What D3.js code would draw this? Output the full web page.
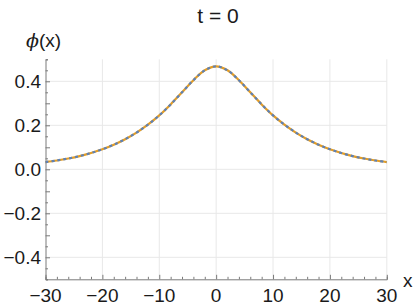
<!DOCTYPE html>
<html>
<head>
<meta charset="utf-8">
<script src="https://cdn.jsdelivr.net/npm/d3@7"></script>
<style>
  body { margin: 0; background: #fff; }
  svg { display: block; font-family: "Liberation Sans", Arial, sans-serif; }
</style>
</head>
<body>
<svg id="chart"></svg>
<script>
// values (curve is symmetric about x = 0)
const xs = [-30, -28, -26, -24, -22, -20, -18, -16, -14, -12, -10, -8, -6, -4, -2, 0,
            2, 4, 6, 8, 10, 12, 14, 16, 18, 20, 22, 24, 26, 28, 30];
const phi = [0.033, 0.040, 0.049, 0.060, 0.074, 0.091, 0.112, 0.137, 0.167, 0.203, 0.245, 0.295, 0.350, 0.405, 0.450, 0.468,
             0.450, 0.405, 0.350, 0.295, 0.245, 0.203, 0.167, 0.137, 0.112, 0.091, 0.074, 0.060, 0.049, 0.040, 0.033];
const xTicks = [-30, -20, -10, 0, 10, 20, 30];
const yTicks = [-0.4, -0.2, 0, 0.2, 0.4];
const title = "t = 0";

const width = 415, height = 307;
const svg = d3.select("#chart").attr("width", width).attr("height", height);

const x = d3.scaleLinear().domain([-30, 30]).range([45.5, 386.8]);
const y = d3.scaleLinear().domain([-0.5, 0.5]).range([279.3, 59.3]);

const axisColor = "#7a7a7a";
const gridColor = "#e8e8e8";
const textColor = "#1a1a1a";

// grid
svg.append("g").selectAll("line")
    .data(xTicks.filter(d => d !== -30))
    .join("line")
    .attr("x1", d => x(d)).attr("x2", d => x(d))
    .attr("y1", y(-0.5)).attr("y2", y(0.5))
    .attr("stroke", gridColor).attr("stroke-width", 1);

svg.append("g").selectAll("line")
    .data(yTicks)
    .join("line")
    .attr("x1", x(-30)).attr("x2", x(30))
    .attr("y1", d => y(d)).attr("y2", d => y(d))
    .attr("stroke", gridColor).attr("stroke-width", 1);

// axes with inward ticks
const xAxis = svg.append("g")
    .attr("transform", `translate(0,${y(-0.5)})`)
    .call(d3.axisTop(x).tickValues(d3.range(-30, 31, 2)).tickSize(2.5).tickFormat(""));
xAxis.selectAll(".tick line").filter(d => d % 10 === 0).attr("y2", -4.5);

const yAxis = svg.append("g")
    .attr("transform", `translate(${x(-30)},0)`)
    .call(d3.axisRight(y).tickValues(d3.range(-10, 11).map(d => d * 0.05)).tickSize(2.5).tickFormat(""));
yAxis.selectAll(".tick line").filter(d => Math.abs(Math.round(d * 20)) % 2 === 0 && Math.abs(d) < 0.49).attr("x2", 4.5);

[xAxis, yAxis].forEach(a => {
    a.select(".domain").attr("stroke", axisColor).attr("stroke-width", 1);
    a.selectAll(".tick line").attr("stroke", axisColor);
});

// tick labels
const fmtY = d => (d < 0 ? "\u2212" : "") + Math.abs(d).toFixed(1);
svg.append("g").selectAll("text")
    .data(yTicks)
    .join("text")
    .attr("x", 41).attr("y", d => y(d))
    .attr("dy", "0.36em")
    .attr("text-anchor", "end")
    .attr("font-size", 19)
    .attr("fill", textColor)
    .text(fmtY);

svg.append("g").selectAll("text")
    .data(xTicks)
    .join("text")
    .attr("x", d => x(d)).attr("y", 301.5)
    .attr("text-anchor", "middle")
    .attr("font-size", 19)
    .attr("fill", textColor)
    .text(d => (d < 0 ? "\u2212" : "") + Math.abs(d));

// axis labels and title
const yl = svg.append("text").attr("x", 26).attr("y", 47).attr("font-size", 19).attr("fill", textColor);
yl.append("tspan").attr("font-style", "italic").attr("font-family", "DejaVu Serif, serif").text("\u03d5");
yl.append("tspan").text("(x)");

svg.append("text").attr("x", 403).attr("y", 286.5)
    .attr("font-size", 19).attr("fill", textColor).text("x");

svg.append("text").attr("x", 218).attr("y", 22.5)
    .attr("text-anchor", "middle").attr("font-size", 21)
    .attr("fill", textColor).text(title);

// curves: orange solid under a dashed blue copy
const pts = xs.map((d, i) => [d, phi[i]]);
const line = d3.line().x(d => x(d[0])).y(d => y(d[1])).curve(d3.curveCatmullRom);

svg.append("path").datum(pts)
    .attr("d", line).attr("fill", "none")
    .attr("stroke", "#e39d26").attr("stroke-width", 2.2);

svg.append("path").datum(pts)
    .attr("d", line).attr("fill", "none")
    .attr("stroke", "#5e81b5").attr("stroke-width", 2.2)
    .attr("stroke-dasharray", "3,3");
</script>
</body>
</html>
